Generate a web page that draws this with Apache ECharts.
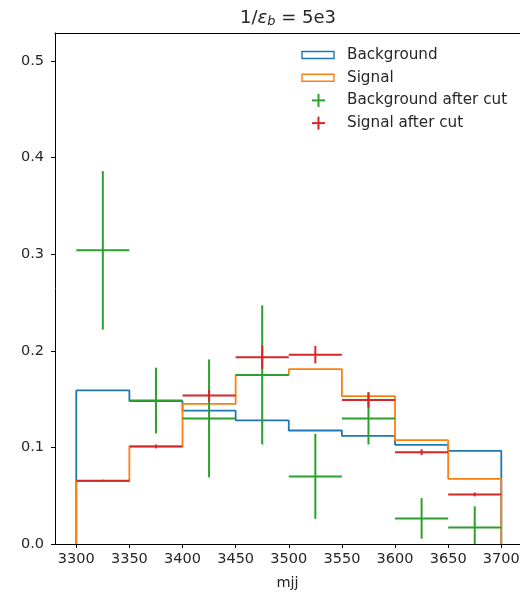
<!DOCTYPE html>
<html>
<head>
<meta charset="utf-8">
<script src="https://cdn.jsdelivr.net/npm/echarts@6/dist/echarts.min.js"></script>
<style>
html,body{margin:0;padding:0;background:#fff;}
#chart{width:520px;height:593px;}
</style>
</head>
<body>
<div id="chart"></div>
<script>
const binEdges = [3300, 3350, 3400, 3450, 3500, 3550, 3600, 3650, 3700];
const backgroundValues = [0.159, 0.148, 0.138, 0.128, 0.1175, 0.112, 0.1027, 0.0965];
const signalValues = [0.065, 0.101, 0.145, 0.175, 0.181, 0.153, 0.1075, 0.0675];
const bgCutValues = [0.304, 0.1485, 0.130, 0.175, 0.070, 0.130, 0.0265, 0.017];
const bgCutErrors = [0.082, 0.034, 0.061, 0.072, 0.044, 0.027, 0.021, 0.022];
const sigCutValues = [0.0655, 0.101, 0.1537, 0.1934, 0.196, 0.149, 0.095, 0.0513];
const sigCutErrors = [0.001, 0.002, 0.006, 0.012, 0.009, 0.008, 0.003, 0.002];
const xTickValues = [3300, 3350, 3400, 3450, 3500, 3550, 3600, 3650, 3700];
const yTickValues = [0.0, 0.1, 0.2, 0.3, 0.4, 0.5];
const seriesNames = ['Background', 'Signal', 'Background after cut', 'Signal after cut'];

const C_BLUE = '#1f77b4', C_ORANGE = '#ff7f0e', C_GREEN = '#2ca02c', C_RED = '#d62728';
const TXT = '#262626';
const FONT = 'DejaVu Sans';

function stepPoints(vals) {
  const pts = [[binEdges[0], 0]];
  for (let i = 0; i < vals.length; i++) {
    pts.push([binEdges[i], vals[i]]);
    pts.push([binEdges[i + 1], vals[i]]);
  }
  pts.push([binEdges[binEdges.length - 1], 0]);
  return pts;
}
function errData(vals, errs) {
  return vals.map((v, i) => [(binEdges[i] + binEdges[i + 1]) / 2, v, errs[i], binEdges[i], binEdges[i + 1]]);
}
function errRender(color) {
  return function (params, api) {
    const x = api.value(0), y = api.value(1), e = api.value(2);
    const c = api.coord([x, y]);
    const lo = api.coord([x, y - e]);
    const hi = api.coord([x, y + e]);
    const l = api.coord([api.value(3), y]);
    const r = api.coord([api.value(4), y]);
    const st = { stroke: color, lineWidth: 2 };
    return {
      type: 'group',
      children: [
        { type: 'line', shape: { x1: l[0], y1: c[1], x2: r[0], y2: c[1] }, style: st },
        { type: 'line', shape: { x1: c[0], y1: lo[1], x2: c[0], y2: hi[1] }, style: st }
      ]
    };
  };
}

const chart = echarts.init(document.getElementById('chart'), null, { renderer: 'canvas' });

const legendX = 302, legendTextX = 347, legendY0 = 55, legendDy = 22.7;
const legendGraphics = [];
const legColors = [C_BLUE, C_ORANGE, C_GREEN, C_RED];
seriesNames.forEach((name, i) => {
  const cy = legendY0 + i * legendDy;
  if (i < 2) {
    legendGraphics.push({ type: 'rect', shape: { x: legendX, y: cy - 3.5, width: 32, height: 7 },
      style: { fill: 'none', stroke: legColors[i], lineWidth: 1.4 } });
  } else {
    legendGraphics.push({ type: 'line', shape: { x1: 312, y1: cy, x2: 325, y2: cy }, style: { stroke: legColors[i], lineWidth: 2 } });
    legendGraphics.push({ type: 'line', shape: { x1: 318.5, y1: cy - 6.5, x2: 318.5, y2: cy + 6.5 }, style: { stroke: legColors[i], lineWidth: 2 } });
  }
  legendGraphics.push({ type: 'text', x: legendTextX, y: cy,
    style: { text: name, fill: TXT, font: '15.2px "' + FONT + '"', textVerticalAlign: 'middle', verticalAlign: 'middle' } });
});

const option = {
  animation: false,
  backgroundColor: '#fff',
  grid: { left: 55, right: 0, top: 33, bottom: 49, show: false, outerBoundsMode: 'none', containLabel: false },
  xAxis: [{
    type: 'value', min: 3280, max: 3717.6,
    name: 'mjj', nameLocation: 'middle', nameGap: 32,
    nameTextStyle: { color: TXT, fontFamily: FONT, fontSize: 14.5 },
    axisLine: { show: true, onZero: false, lineStyle: { color: '#000', width: 1 } },
    axisTick: { show: true, length: 4, lineStyle: { color: '#000' }, customValues: xTickValues },
    axisLabel: { color: TXT, fontFamily: FONT, fontSize: 14.5, margin: 8, customValues: xTickValues,
      formatter: v => String(Math.round(v)) },
    splitLine: { show: false }
  }, {
    type: 'value', position: 'top', min: 3280, max: 3717.6,
    axisLine: { show: true, onZero: false, lineStyle: { color: '#000', width: 1 } },
    axisTick: { show: false }, axisLabel: { show: false }, splitLine: { show: false }
  }],
  yAxis: {
    type: 'value', min: 0, max: 0.529,
    axisLine: { show: true, lineStyle: { color: '#000', width: 1 } },
    axisTick: { show: true, length: 4, lineStyle: { color: '#000' }, customValues: yTickValues },
    axisLabel: { color: TXT, fontFamily: FONT, fontSize: 14.5, margin: 11, customValues: yTickValues,
      formatter: v => v.toFixed(1) },
    splitLine: { show: false }
  },
  graphic: [
    { type: 'text', x: 288, y: 18,
      style: {
        text: '{a|1/}{e|ε}{s|b}{a| = 5e3}',
        textAlign: 'center', align: 'center', textVerticalAlign: 'middle', verticalAlign: 'middle',
        rich: {
          a: { fontFamily: FONT, fontSize: 18, fill: TXT, color: TXT },
          e: { fontFamily: FONT, fontSize: 18, fontStyle: 'italic', fill: TXT, color: TXT },
          s: { fontFamily: FONT, fontSize: 13, fontStyle: 'italic', fill: TXT, color: TXT, verticalAlign: 'bottom', padding: [7, 0, 0, 0] }
        }
      }
    }
  ].concat(legendGraphics),
  series: [
    { name: seriesNames[0], type: 'line', data: stepPoints(backgroundValues), showSymbol: false, symbol: 'none',
      lineStyle: { color: C_BLUE, width: 1.8 }, itemStyle: { color: C_BLUE }, clip: true, z: 2 },
    { name: seriesNames[1], type: 'line', data: stepPoints(signalValues), showSymbol: false, symbol: 'none',
      lineStyle: { color: C_ORANGE, width: 1.8 }, itemStyle: { color: C_ORANGE }, clip: true, z: 3 },
    { name: seriesNames[2], type: 'custom', data: errData(bgCutValues, bgCutErrors), renderItem: errRender(C_GREEN),
      itemStyle: { color: C_GREEN }, clip: true, z: 4 },
    { name: seriesNames[3], type: 'custom', data: errData(sigCutValues, sigCutErrors), renderItem: errRender(C_RED),
      itemStyle: { color: C_RED }, clip: true, z: 5 }
  ]
};
chart.setOption(option);
</script>
</body>
</html>
